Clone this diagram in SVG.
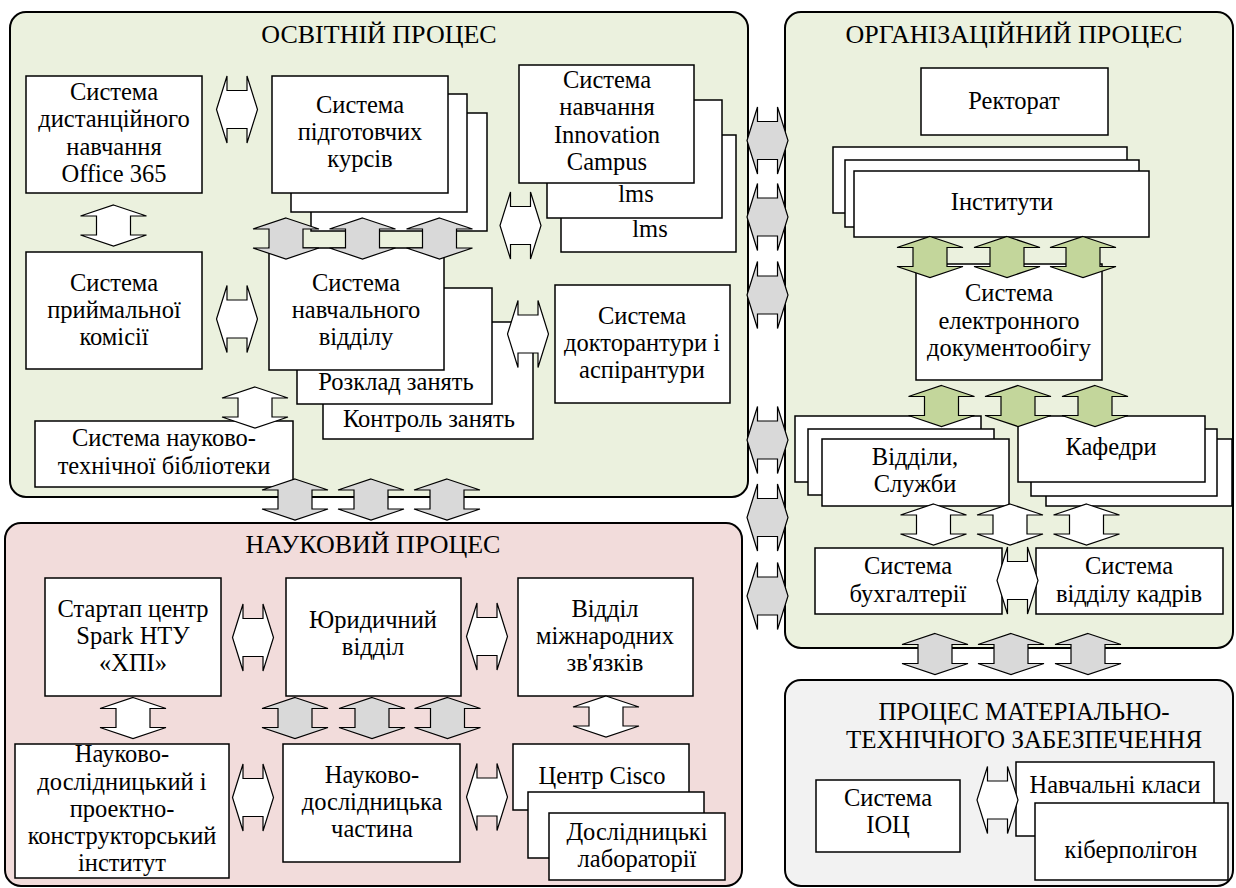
<svg xmlns="http://www.w3.org/2000/svg" xmlns:xlink="http://www.w3.org/1999/xlink" width="1236" height="888" viewBox="0 0 1236 888">
  <style>
    text { font-family: 'Liberation Serif', 'DejaVu Serif', serif; font-size: 24.5px; fill: #000; text-anchor: middle; }
    .title { font-size: 26px; }
    .panel { stroke: #000; stroke-width: 2; }
    .edu { fill: #ebf1de; }
    .sci { fill: #f2dcdb; }
    .org { fill: #ebf1de; }
    .mat { fill: #f2f2f2; }
    .box { fill: #fff; stroke: #000; stroke-width: 1.5; }
    .aw { fill: #fff; stroke: #000; stroke-width: 1.2; }
    .ag { fill: #d9d9d9; stroke: #000; stroke-width: 1.2; }
    .agr { fill: #c3d69b; stroke: #000; stroke-width: 1.2; }
  </style>
  <defs>
    <!-- double-headed block arrows centred on the origin -->
    <path id="ud" d="M0,-20.5 L33,-9.5 L17,-9.5 L17,9.5 L33,9.5 L0,20.5 L-33,9.5 L-17,9.5 L-17,-9.5 L-33,-9.5 Z"/>
    <path id="lr" d="M-20.5,0 L-10,-33.5 L-10,-19 L10,-19 L10,-33.5 L20.5,0 L10,33.5 L10,19 L-10,19 L-10,33.5 Z"/>
  </defs>

  <rect width="1236" height="888" fill="#fff"/>

  <!-- process panels -->
  <g id="panel-edu">
    <rect class="panel edu" x="10" y="12" width="738" height="485" rx="16"/>
    <text class="title" x="379" y="43">ОСВІТНІЙ ПРОЦЕС</text>
  </g>
  <g id="panel-org">
    <rect class="panel org" x="785" y="12" width="448" height="636" rx="16"/>
    <text class="title" x="1014" y="43">ОРГАНІЗАЦІЙНИЙ ПРОЦЕС</text>
  </g>
  <g id="panel-sci">
    <rect class="panel sci" x="5" y="523" width="737" height="363" rx="16"/>
    <text class="title" x="373" y="553">НАУКОВИЙ ПРОЦЕС</text>
  </g>
  <g id="panel-mat">
    <rect class="panel mat" x="785" y="680" width="448" height="206" rx="16"/>
    <text style="font-size:25px"><tspan x="1024" y="720">ПРОЦЕС МАТЕРІАЛЬНО-</tspan><tspan x="1024" dy="27.8">ТЕХНІЧНОГО ЗАБЕЗПЕЧЕННЯ</tspan></text>
  </g>

  <!-- educational process -->
  <g id="distance-learning">
    <rect class="box" x="26" y="76" width="176" height="117"/>
    <text><tspan x="114" y="100.2">Система</tspan><tspan x="114" dy="27.2">дистанційного</tspan><tspan x="114" dy="27.2">навчання</tspan><tspan x="114" dy="27.2">Office 365</tspan></text>
  </g>
  <g id="prep-courses">
    <rect class="box" x="311" y="113" width="176" height="118"/>
    <rect class="box" x="291" y="94" width="176" height="118"/>
    <rect class="box" x="272" y="76" width="176" height="117"/>
    <text><tspan x="360" y="112.8">Система</tspan><tspan x="360" dy="27.2">підготовчих</tspan><tspan x="360" dy="27.2">курсів</tspan></text>
  </g>
  <g id="innovation-campus">
    <rect class="box" x="561" y="135" width="175" height="117"/>
    <text x="650" y="237">lms</text>
    <rect class="box" x="547" y="100" width="175" height="118"/>
    <text x="636" y="202">lms</text>
    <rect class="box" x="519" y="65" width="175" height="118"/>
    <text><tspan x="607" y="88.2">Система</tspan><tspan x="607" dy="27.2">навчання</tspan><tspan x="607" dy="27.2">Innovation</tspan><tspan x="607" dy="27.2">Campus</tspan></text>
  </g>
  <g id="admissions">
    <rect class="box" x="26" y="252" width="176" height="117"/>
    <text><tspan x="114" y="290.8">Система</tspan><tspan x="114" dy="27.2">приймальної</tspan><tspan x="114" dy="27.2">комісії</tspan></text>
  </g>
  <g id="academic-office">
    <rect class="box" x="323" y="322" width="210" height="117"/>
    <text x="429" y="427">Контроль занять</text>
    <rect class="box" x="297" y="288" width="195" height="116"/>
    <text x="396" y="390">Розклад занять</text>
    <rect class="box" x="269" y="248" width="175" height="122"/>
    <text><tspan x="356" y="290.8">Система</tspan><tspan x="356" dy="27.2">навчального</tspan><tspan x="356" dy="27.2">відділу</tspan></text>
  </g>
  <g id="doctoral">
    <rect class="box" x="555" y="285" width="175" height="118"/>
    <text><tspan x="642" y="323.8">Система</tspan><tspan x="642" dy="27.2">докторантури і</tspan><tspan x="642" dy="27.2">аспірантури</tspan></text>
  </g>
  <g id="library">
    <rect class="box" x="35" y="421" width="258" height="66"/>
    <text><tspan x="164" y="446.4">Система науково-</tspan><tspan x="164" dy="27.2">технічної бібліотеки</tspan></text>
  </g>

  <!-- organisational process -->
  <g id="rectorate">
    <rect class="box" x="921" y="68" width="187" height="67"/>
    <text x="1014" y="109">Ректорат</text>
  </g>
  <g id="institutes">
    <rect class="box" x="833" y="147" width="294" height="66"/>
    <rect class="box" x="845" y="160" width="294" height="67"/>
    <rect class="box" x="854" y="171" width="295" height="66"/>
    <text x="1002" y="210">Інститути</text>
  </g>
  <g id="edms">
    <rect class="box" x="916" y="264" width="186" height="116"/>
    <text><tspan x="1009" y="301.3">Система</tspan><tspan x="1009" dy="27.2">електронного</tspan><tspan x="1009" dy="27.2">документообігу</tspan></text>
  </g>
  <g id="departments">
    <rect class="box" x="795" y="416" width="186" height="66"/>
    <rect class="box" x="808" y="429" width="186" height="66"/>
    <rect class="box" x="822" y="439" width="187" height="67"/>
    <text><tspan x="915" y="464.9">Відділи,</tspan><tspan x="915" dy="27.2">Служби</tspan></text>
  </g>
  <g id="chairs">
    <rect class="box" x="1046" y="439" width="186" height="67"/>
    <rect class="box" x="1031" y="429" width="186" height="67"/>
    <rect class="box" x="1018" y="416" width="187" height="66"/>
    <text x="1111" y="455">Кафедри</text>
  </g>
  <g id="accounting">
    <rect class="box" x="815" y="548" width="187" height="66"/>
    <text><tspan x="908" y="574.4">Система</tspan><tspan x="908" dy="27.2">бухгалтерії</tspan></text>
  </g>
  <g id="hr">
    <rect class="box" x="1036" y="548" width="187" height="66"/>
    <text><tspan x="1129" y="574.4">Система</tspan><tspan x="1129" dy="27.2">відділу кадрів</tspan></text>
  </g>

  <!-- scientific process -->
  <g id="startup">
    <rect class="box" x="45" y="578" width="176" height="118"/>
    <text><tspan x="133" y="616.8">Стартап центр</tspan><tspan x="133" dy="27.2">Spark НТУ</tspan><tspan x="133" dy="27.2">«ХПІ»</tspan></text>
  </g>
  <g id="legal">
    <rect class="box" x="286" y="578" width="175" height="118"/>
    <text><tspan x="373" y="627.9">Юридичний</tspan><tspan x="373" dy="27.2">відділ</tspan></text>
  </g>
  <g id="international">
    <rect class="box" x="518" y="578" width="175" height="118"/>
    <text><tspan x="605" y="616.8">Відділ</tspan><tspan x="605" dy="27.2">міжнародних</tspan><tspan x="605" dy="27.2">зв'язків</tspan></text>
  </g>
  <g id="design-institute">
    <rect class="box" x="15" y="744" width="214" height="134"/>
    <text><tspan x="122" y="762.3">Науково-</tspan><tspan x="122" dy="27.2">дослідницький і</tspan><tspan x="122" dy="27.2">проектно-</tspan><tspan x="122" dy="27.2">конструкторський</tspan><tspan x="122" dy="27.2">інститут</tspan></text>
  </g>
  <g id="research-unit">
    <rect class="box" x="283" y="744" width="177" height="118"/>
    <text><tspan x="372" y="782.8">Науково-</tspan><tspan x="372" dy="27.2">дослідницька</tspan><tspan x="372" dy="27.2">частина</tspan></text>
  </g>
  <g id="labs">
    <rect class="box" x="513" y="744" width="176" height="66"/>
    <text x="602" y="784">Центр Cisco</text>
    <rect class="box" x="528" y="792" width="176" height="66"/>
    <rect class="box" x="549" y="813" width="176" height="67"/>
    <text><tspan x="637" y="839.9">Дослідницькі</tspan><tspan x="637" dy="27.2">лабораторії</tspan></text>
  </g>

  <!-- logistics process -->
  <g id="ioc">
    <rect class="box" x="816" y="780" width="144" height="72"/>
    <text><tspan x="888" y="805.9">Система</tspan><tspan x="888" dy="27.2">ІОЦ</tspan></text>
  </g>
  <g id="classrooms">
    <rect class="box" x="1016" y="762" width="198" height="74"/>
    <text x="1115" y="793">Навчальні класи</text>
    <rect class="box" x="1035" y="803" width="193" height="77"/>
    <text x="1131" y="858">кіберполігон</text>
  </g>

  <!-- connectors -->
  <g id="connectors">
    <use xlink:href="#lr" class="aw" x="237" y="109.5"/>
    <use xlink:href="#ud" class="aw" x="113.5" y="225.5"/>
    <use xlink:href="#ud" class="ag" x="286" y="238.5"/>
    <use xlink:href="#ud" class="ag" x="362.5" y="238.5"/>
    <use xlink:href="#ud" class="ag" x="439.5" y="238.5"/>
    <use xlink:href="#lr" class="aw" x="520.5" y="225.5"/>
    <use xlink:href="#lr" class="aw" x="237" y="319"/>
    <use xlink:href="#ud" class="aw" x="255" y="407.5"/>
    <use xlink:href="#lr" class="aw" x="528" y="334"/>
    <use xlink:href="#ud" class="ag" x="295" y="499.5"/>
    <use xlink:href="#ud" class="ag" x="371" y="499.5"/>
    <use xlink:href="#ud" class="ag" x="447" y="499.5"/>

    <use xlink:href="#lr" class="ag" x="767.5" y="140.5"/>
    <use xlink:href="#lr" class="ag" x="767.5" y="217"/>
    <use xlink:href="#lr" class="ag" x="767.5" y="295"/>
    <use xlink:href="#lr" class="ag" x="767.5" y="440"/>
    <use xlink:href="#lr" class="ag" x="767.5" y="517.5"/>
    <use xlink:href="#lr" class="ag" x="767.5" y="596"/>

    <use xlink:href="#ud" class="agr" x="930" y="257"/>
    <use xlink:href="#ud" class="agr" x="1007" y="257"/>
    <use xlink:href="#ud" class="agr" x="1083" y="257"/>
    <use xlink:href="#ud" class="agr" x="941.5" y="406"/>
    <use xlink:href="#ud" class="agr" x="1018" y="406"/>
    <use xlink:href="#ud" class="agr" x="1095" y="406"/>
    <use xlink:href="#ud" class="aw" x="933.5" y="524.5"/>
    <use xlink:href="#ud" class="aw" x="1010" y="524.5"/>
    <use xlink:href="#ud" class="aw" x="1086.5" y="524.5"/>
    <use xlink:href="#lr" class="aw" x="1017.5" y="580.5"/>
    <use xlink:href="#ud" class="ag" x="935" y="654"/>
    <use xlink:href="#ud" class="ag" x="1011" y="654"/>
    <use xlink:href="#ud" class="ag" x="1088" y="654"/>

    <use xlink:href="#lr" class="aw" x="253" y="637.5"/>
    <use xlink:href="#lr" class="aw" x="487" y="636.5"/>
    <use xlink:href="#ud" class="aw" x="133" y="718"/>
    <use xlink:href="#ud" class="ag" x="295" y="718"/>
    <use xlink:href="#ud" class="ag" x="372" y="718"/>
    <use xlink:href="#ud" class="ag" x="447.5" y="718"/>
    <use xlink:href="#ud" class="aw" x="606" y="716.5"/>
    <use xlink:href="#lr" class="aw" x="253" y="797.5"/>
    <use xlink:href="#lr" class="aw" x="487" y="797"/>

    <use xlink:href="#lr" class="aw" x="997.5" y="800"/>
  </g>
</svg>
